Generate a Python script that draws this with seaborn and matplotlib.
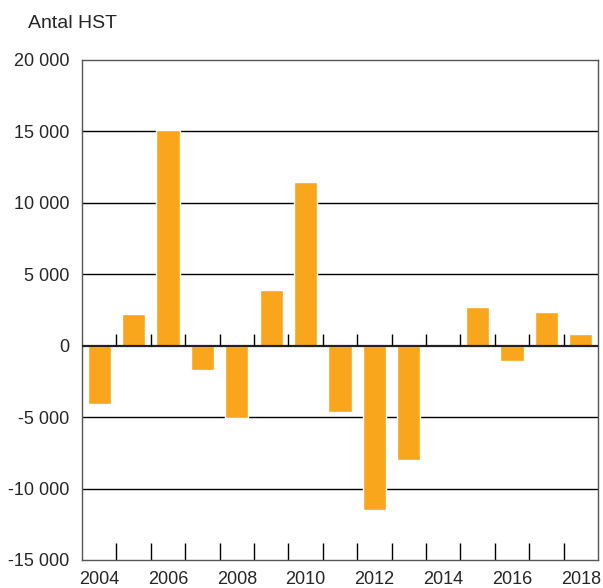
import pandas as pd
import seaborn as sns
import matplotlib.pyplot as plt
from matplotlib.ticker import FuncFormatter, FixedLocator

years = [str(y) for y in range(2004, 2019)]
values = [-4080, 2220, 15100, -1680, -5040, 3900, 11460, -4620,
          -11500, -8000, -60, 2710, -1050, 2360, 820]
tick_years = ['2004', '2006', '2008', '2010', '2012', '2014', '2016', '2018']

bar_color = '#F9A61C'

sns.set_style('white')
plt.rcParams['font.family'] = ['Liberation Sans', 'DejaVu Sans']

df = pd.DataFrame({'year': years, 'value': values})

fig = plt.figure(figsize=(6.03, 5.88), dpi=100)
ax = fig.add_axes([82 / 603, 1 - 560 / 588, 516 / 603, 500 / 588])

sns.barplot(data=df, x='year', y='value', order=years, color=bar_color,
            width=0.67, saturation=1, ax=ax, zorder=3)

ax.set_xlim(-0.5, len(years) - 0.5)
ax.set_ylim(-15000, 20000)
ax.set_yticks(range(-15000, 20001, 5000))
ax.yaxis.set_major_formatter(FuncFormatter(lambda v, p: f'{int(v):,}'.replace(',', ' ')))
for y in range(-10000, 20000, 5000):
    if y != 0:
        ax.axhline(y, color='black', lw=1, zorder=1)
ax.axhline(0, color='#222222', lw=1.6, zorder=4)

boundaries = [i + 0.5 for i in range(len(years) - 1)]
positions = [years.index(y) for y in tick_years]
ax.set_xticks(positions)
ax.set_xticklabels(tick_years)
ax.xaxis.set_minor_locator(FixedLocator(boundaries))
ax.tick_params(axis='x', which='both', bottom=True)
ax.tick_params(axis='x', which='major', length=0, pad=8, labelsize=13)
ax.tick_params(axis='x', which='minor', direction='in', length=12, width=1, color='black')
ax.tick_params(axis='y', length=0, pad=9, labelsize=13)
ax.vlines(boundaries, 0, 840, color='black', lw=1, zorder=4)

ax.set_xlabel('')
ax.set_ylabel('')
for s in ax.spines.values():
    s.set_color('#555555')
    s.set_linewidth(1)
    s.set_visible(True)

fig.text(28 / 603, 1 - 23 / 588, 'Antal HST', fontsize=14, va='center', ha='left')

fig.savefig('out.png', dpi=100)
